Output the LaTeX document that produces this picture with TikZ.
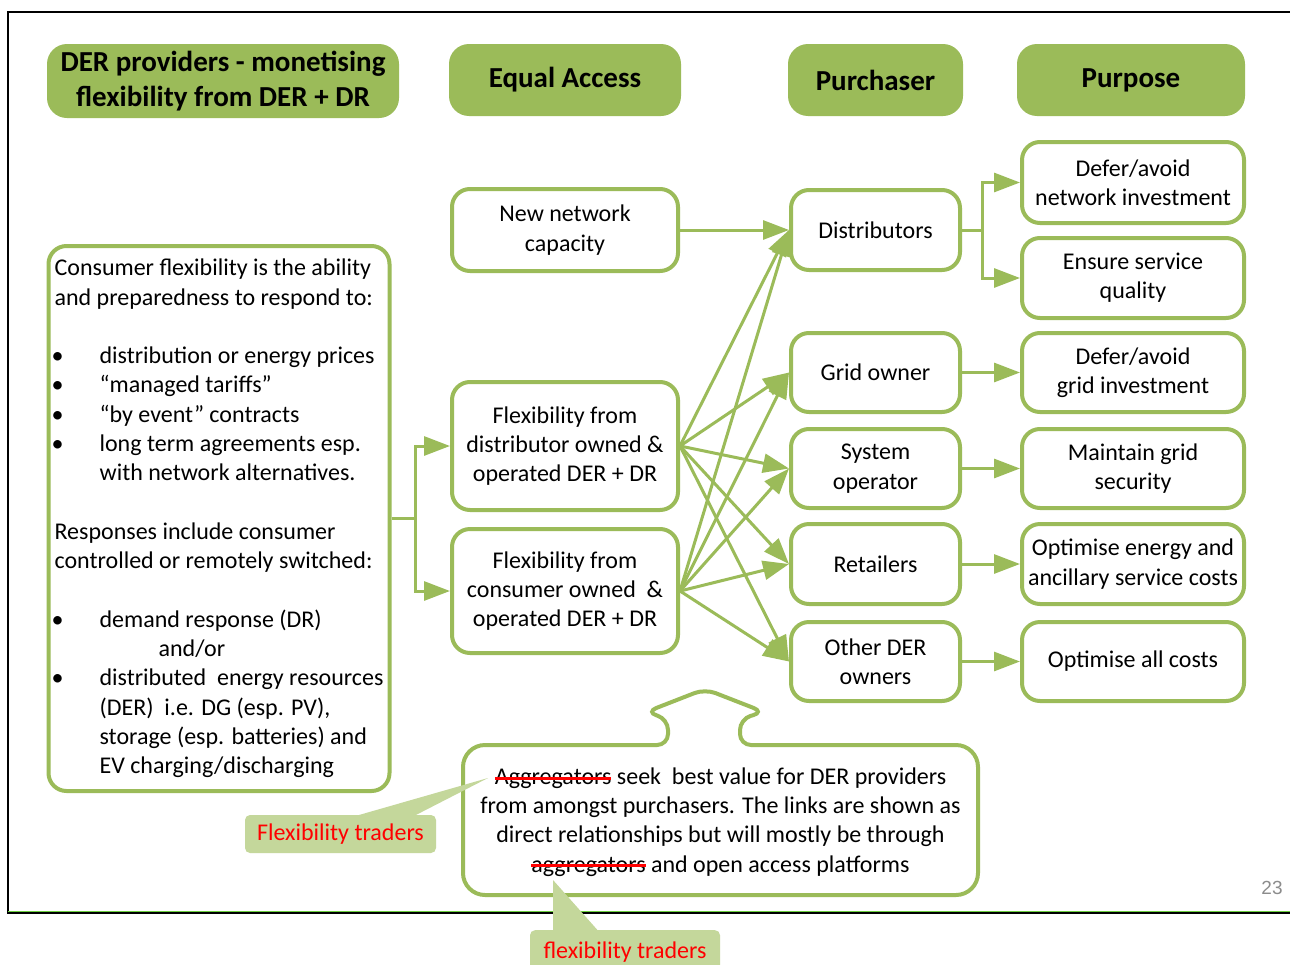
\documentclass[tikz,border=0pt]{standalone}
\usepackage{fontspec}
\setmainfont{Carlito}
\newfontfamily\pagenumfont{Liberation Sans}
\usetikzlibrary{arrows.meta}
\definecolor{fgreen}{HTML}{9BBB59}
\definecolor{lgreen}{HTML}{C4D79B}
\definecolor{pgray}{HTML}{8C8C8C}
\newcommand\bodyfont{\fontsize{24}{29.3}\selectfont}
\newcommand\headfont{\fontsize{29}{35}\selectfont\bfseries}
% red strike-through drawn over a word
\newcommand\redstrike[1]{\leavevmode\setbox0=\hbox{#1}\copy0\llap{\textcolor{red}{\rule[0.2em]{\wd0}{3pt}}}}
\tikzset{
  headbox/.style={fill=fgreen, rounded corners=20pt, font=\headfont, align=center, inner sep=2pt},
  box/.style={draw=fgreen, line width=4pt, rounded corners=18pt, fill=white, align=center, font=\bodyfont, inner sep=2pt},
  link/.style={draw=fgreen, line width=3pt, -{Triangle[length=26pt,width=19pt]}},
  tag/.style={fill=lgreen, rounded corners=5pt, text=red, font=\bodyfont, inner sep=2pt}
}
\begin{document}
\begin{tikzpicture}[x=1pt,y=-1pt]
\useasboundingbox (0,0) rectangle (1290,964);
\fill[white] (0,0) rectangle (1290,964);

% slide frame
\draw[black, line width=2.5pt] (1300,913) -- (8,913) -- (8,12) -- (1300,12);
\draw[fgreen!70!green, line width=0.8pt] (8,911.2) -- (1290,911.2);
\node[font=\pagenumfont\fontsize{19}{22}\selectfont, text=pgray] (pnum) at (1272,888) {23};

% column headers
\node[headbox, minimum width=352pt, minimum height=74pt] (h1) at (223,81) {DER providers - monetising\\flexibility from DER + DR};
\node[headbox, minimum width=232pt, minimum height=72pt] (h2) at (565,80) {Equal Access};
\node[headbox, minimum width=175pt, minimum height=72pt] (h3) at (875.5,80) {Purchaser};
\node[headbox, minimum width=228pt, minimum height=72pt] (h4) at (1131,80) {Purpose};

% consumer flexibility description
\node[box, align=left, minimum width=341pt, minimum height=545pt] (left) at (219,518.5) {%
Consumer flexibility is the ability\\
and preparedness to respond to:\\[29.3pt]
\makebox[45pt][l]{\hspace{-3pt}•}distribution or energy prices\\
\makebox[45pt][l]{\hspace{-3pt}•}“managed tariffs”\\
\makebox[45pt][l]{\hspace{-3pt}•}“by event” contracts\\
\makebox[45pt][l]{\hspace{-3pt}•}long term agreements esp.\\
\hspace*{45pt}with network alternatives.\\[29.3pt]
Responses include consumer\\
controlled or remotely switched:\\[29.3pt]
\makebox[45pt][l]{\hspace{-3pt}•}demand response (DR)\\
\hspace*{104pt}and/or\\
\makebox[45pt][l]{\hspace{-3pt}•}distributed\ \ energy resources\\
\hspace*{45pt}(DER)\ \ i.e. DG (esp. PV),\\
\hspace*{45pt}storage (esp. batteries) and\\
\hspace*{45pt}EV charging/discharging};

% equal access column
\node[box, minimum width=226pt, minimum height=82pt] (netcap) at (565,230) {New network\\capacity};
\node[box, minimum width=226pt, minimum height=128pt] (f1) at (565,446) {Flexibility from\\distributor owned \&\\operated DER + DR};
\node[box, minimum width=226pt, minimum height=124pt] (f2) at (565,591) {Flexibility from\\consumer owned\ \ \&\\operated DER + DR};

% purchaser column
\node[box, minimum width=169pt, minimum height=80pt] (dist) at (875.5,230) {Distributors};
\node[box, minimum width=169pt, minimum height=79pt] (grid) at (875.5,372.5) {Grid owner};
\node[box, minimum width=169pt, minimum height=79pt] (sysop) at (875.5,468.5) {System\\operator};
\node[box, minimum width=169pt, minimum height=80pt] (ret) at (875.5,564) {Retailers};
\node[box, minimum width=169pt, minimum height=79pt] (other) at (875.5,661.5) {Other DER\\owners};

% purpose column
\node[box, minimum width=222pt, minimum height=81pt] (p1) at (1133,182.5) {Defer/avoid\\network investment};
\node[box, minimum width=222pt, minimum height=80pt] (p2) at (1133,278) {Ensure service\\quality};
\node[box, minimum width=222pt, minimum height=79pt] (p3) at (1133,372.5) {Defer/avoid\\grid investment};
\node[box, minimum width=222pt, minimum height=79pt] (p4) at (1133,468.5) {Maintain grid\\security};
\node[box, minimum width=222pt, minimum height=80pt] (p5) at (1133,564) {Optimise energy and\\ancillary service costs};
\node[box, minimum width=222pt, minimum height=79pt] (p6) at (1133,661.5) {Optimise all costs};

% flexibility to equal access
\draw[link] (left.east) -- ++(24,0) |- (f1.west);
\draw[link] (left.east) -- ++(24,0) |- (f2.west);

% equal access to purchasers
\draw[link] (netcap.east) -- (dist.west);
\foreach \src in {f1,f2}{
  \foreach \dst in {dist,grid,sysop,ret,other}{
    \draw[link] (\src.east) -- (\dst.west);
  }
}

% purchasers to purpose
\draw[link] (dist.east) -- ++(20,0) |- (p1.west);
\draw[link] (dist.east) -- ++(20,0) |- (p2.west);
\draw[link] (grid.east) -- (p3.west);
\draw[link] (sysop.east) -- (p4.west);
\draw[link] (ret.east) -- (p5.west);
\draw[link] (other.east) -- (p6.west);

% explanatory callout with upward pointer
\draw[fgreen, line width=4pt, fill=white, rounded corners=22pt]
  (463,820) -- (463,745) -- (620,745) [rounded corners=11pt] -- (668,745) -- (668,719)
  -- (646,712) -- (705,689) -- (764,712) -- (740,719) -- (740,745) -- (800,745)
  [rounded corners=22pt] -- (978,745) -- (978,895) -- (463,895) -- cycle;
\node[font=\bodyfont, align=center] (note) at (720.5,822) {%
\redstrike{Aggregators} seek\ \ best value for DER providers\\
from amongst purchasers. The links are shown as\\
direct relationships but will mostly be through\\
\redstrike{aggregators} and open access platforms};

% replacement labels
\fill[lgreen] (352,817) -- (488,778) -- (412,817) -- cycle;
\node[tag, minimum width=191pt, minimum height=38pt] (trad1) at (340.5,834) {Flexibility traders};
\fill[lgreen] (553,880) -- (553,934) -- (601,934) -- cycle;
\node[tag, minimum width=190pt, minimum height=44pt, anchor=north] (trad2) at (625,930) {flexibility traders};
\end{tikzpicture}
\end{document}
